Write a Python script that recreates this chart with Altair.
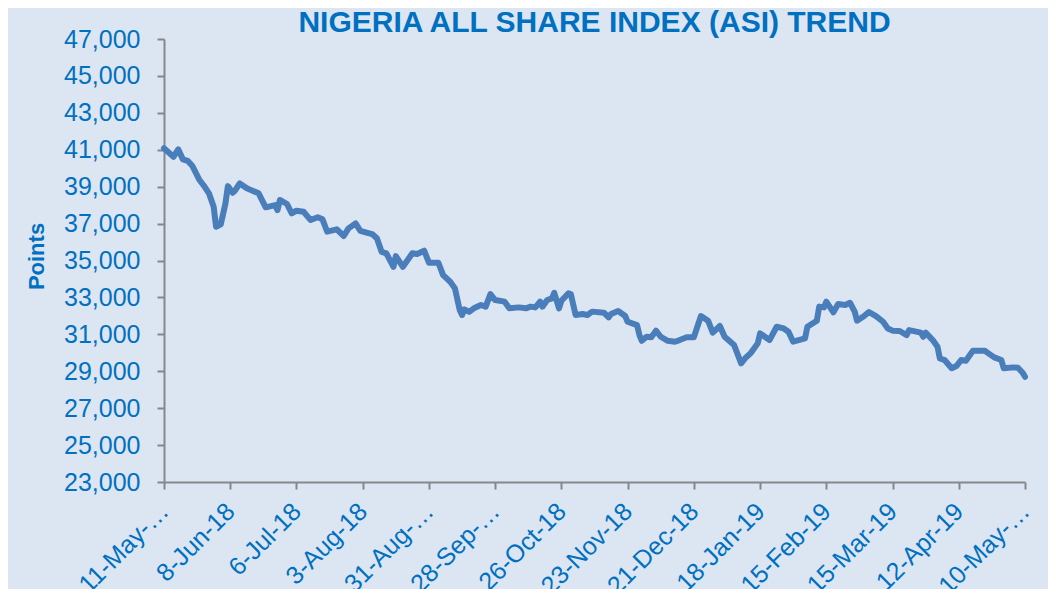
import altair as alt
import pandas as pd

# Days after 11-May-2018 and the ASI value on that day
day_offset = [
    0, 4, 6, 8, 10, 12, 15, 17, 19, 21, 22, 24, 26, 27, 29, 30, 32, 35, 40, 43,
    47, 48, 49, 52, 54, 56, 59, 62, 65, 67, 69, 73, 76, 78, 81, 83, 86, 88, 90, 92,
    94, 97, 98, 101, 105, 107, 110, 112, 116, 118, 121, 123, 125, 126, 127, 129, 131, 134, 136, 138,
    140, 144, 146, 150, 153, 155, 157, 159, 160, 162, 164, 165, 167, 168, 171, 172, 174, 177, 179, 181,
    186, 188, 189, 192, 195, 196, 200, 201, 202, 204, 206, 208, 210, 213, 216, 218, 221, 224, 227, 230,
    232, 235, 237, 241, 244, 246, 248, 251, 252, 256, 259, 262, 264, 266, 271, 272, 276, 277, 279, 280,
    283, 285, 288, 290, 292, 293, 296, 298, 301, 304, 306, 308, 311, 314, 315, 320, 321, 322, 325, 327,
    328, 330, 333, 335, 337, 339, 342, 347, 349, 351, 354, 355, 359, 361, 363, 364,
]
asi_points = [
    41080, 40620, 41020, 40480, 40400, 40120, 39360, 39030, 38640, 37910, 36830, 36960, 38100, 39030, 38670, 38780, 39180, 38910, 38640, 37880,
    38000, 37730, 38280, 38060, 37550, 37700, 37640, 37190, 37340, 37230, 36560, 36690, 36330, 36740, 37010, 36610, 36500, 36430, 36200, 35470,
    35390, 34660, 35240, 34660, 35390, 35350, 35530, 34880, 34880, 34210, 33850, 33490, 32320, 32050, 32350, 32220, 32410, 32590, 32500, 33180,
    32860, 32770, 32410, 32460, 32410, 32500, 32460, 32770, 32500, 32860, 32950, 33250, 32410, 32820, 33220, 33180, 32050, 32100, 32050, 32230,
    32170, 31920, 32100, 32260, 31990, 31680, 31500, 30960, 30650, 30870, 30840, 31200, 30870, 30650, 30600, 30690, 30840, 30840, 31990, 31740,
    31090, 31450, 30870, 30420, 29430, 29750, 29970, 30510, 31050, 30690, 31410, 31320, 31140, 30600, 30780, 31410, 31740, 32500, 32460, 32770,
    32190, 32640, 32590, 32710, 32230, 31740, 31990, 32210, 31990, 31680, 31320, 31200, 31180, 30960, 31230, 31090, 30870, 31090, 30690, 30330,
    29700, 29610, 29160, 29280, 29610, 29570, 30110, 30110, 29930, 29750, 29610, 29160, 29210, 29190, 28920, 28700,
]

start_date = "2018-05-11"
tick_dates = ["2018-05-11", "2018-06-08", "2018-07-06", "2018-08-03", "2018-08-31", "2018-09-28",
              "2018-10-26", "2018-11-23", "2018-12-21", "2019-01-18", "2019-02-15", "2019-03-15",
              "2019-04-12", "2019-05-10"]
tick_labels = ["11-May-…", "8-Jun-18", "6-Jul-18", "3-Aug-18", "31-Aug-…", "28-Sep-…",
               "26-Oct-18", "23-Nov-18", "21-Dec-18", "18-Jan-19", "15-Feb-19", "15-Mar-19",
               "12-Apr-19", "10-May-…"]
y_ticks = list(range(23000, 47001, 2000))

dates = pd.Timestamp(start_date) + pd.to_timedelta(day_offset, unit="D")
df = pd.DataFrame({"date": dates.strftime("%Y-%m-%d"), "asi": asi_points})


def dt(s):
    t = pd.Timestamp(s)
    return alt.DateTime(year=t.year, month=t.month, date=t.day, utc=True)


t0_ms = int(pd.Timestamp(start_date, tz="UTC").timestamp() * 1000)
label_expr = "[" + ",".join("'" + l + "'" for l in tick_labels) + "]" + \
    f"[round((datum.value - {t0_ms}) / (28 * 86400000))]"

blue_text = "#0070C0"
font = "Liberation Sans"

chart = alt.Chart(df).mark_line(
    color="#4A7EBB", strokeWidth=6, strokeJoin="round", strokeCap="round"
).encode(
    x=alt.X("date:T",
            scale=alt.Scale(type="utc", domain=[dt(tick_dates[0]), dt(tick_dates[-1])]),
            axis=alt.Axis(title=None, values=[dt(d) for d in tick_dates], labelExpr=label_expr,
                          labelAngle=315, labelAlign="right", labelBaseline="middle",
                          labelPadding=18, labelOverlap=False, labelBound=False, labelFlush=False)),
    y=alt.Y("asi:Q",
            scale=alt.Scale(domain=[23000, 47000], nice=False, zero=False),
            axis=alt.Axis(title="Points", values=y_ticks, format=",.0f", labelPadding=17,
                          titleFontSize=22, titleFontWeight="bold", titleColor=blue_text,
                          titleFont=font, titleX=-128, titleY=217, titleAlign="center",
                          titleBaseline="middle", titleAngle=270, labelOverlap=False)),
).properties(
    width=861, height=443,
    autosize=alt.AutoSizeParams(type="none"),
    padding={"left": 156, "top": 31, "right": 23, "bottom": 107},
    title=alt.Title("NIGERIA ALL SHARE INDEX (ASI) TREND", fontSize=30, font=font,
                    fontWeight="bold", color=blue_text, anchor="middle",
                    baseline="bottom", offset=3, dy=44),
).configure(
    background="#DCE6F2"
).configure_view(
    stroke=None
).configure_axis(
    grid=False, domainColor="#878787", tickColor="#878787", domainWidth=2, tickWidth=2,
    tickSize=7, labelColor=blue_text, labelFont=font, labelFontSize=25,
)

chart.save("out.html", embed_options={"renderer": "svg", "actions": False})
